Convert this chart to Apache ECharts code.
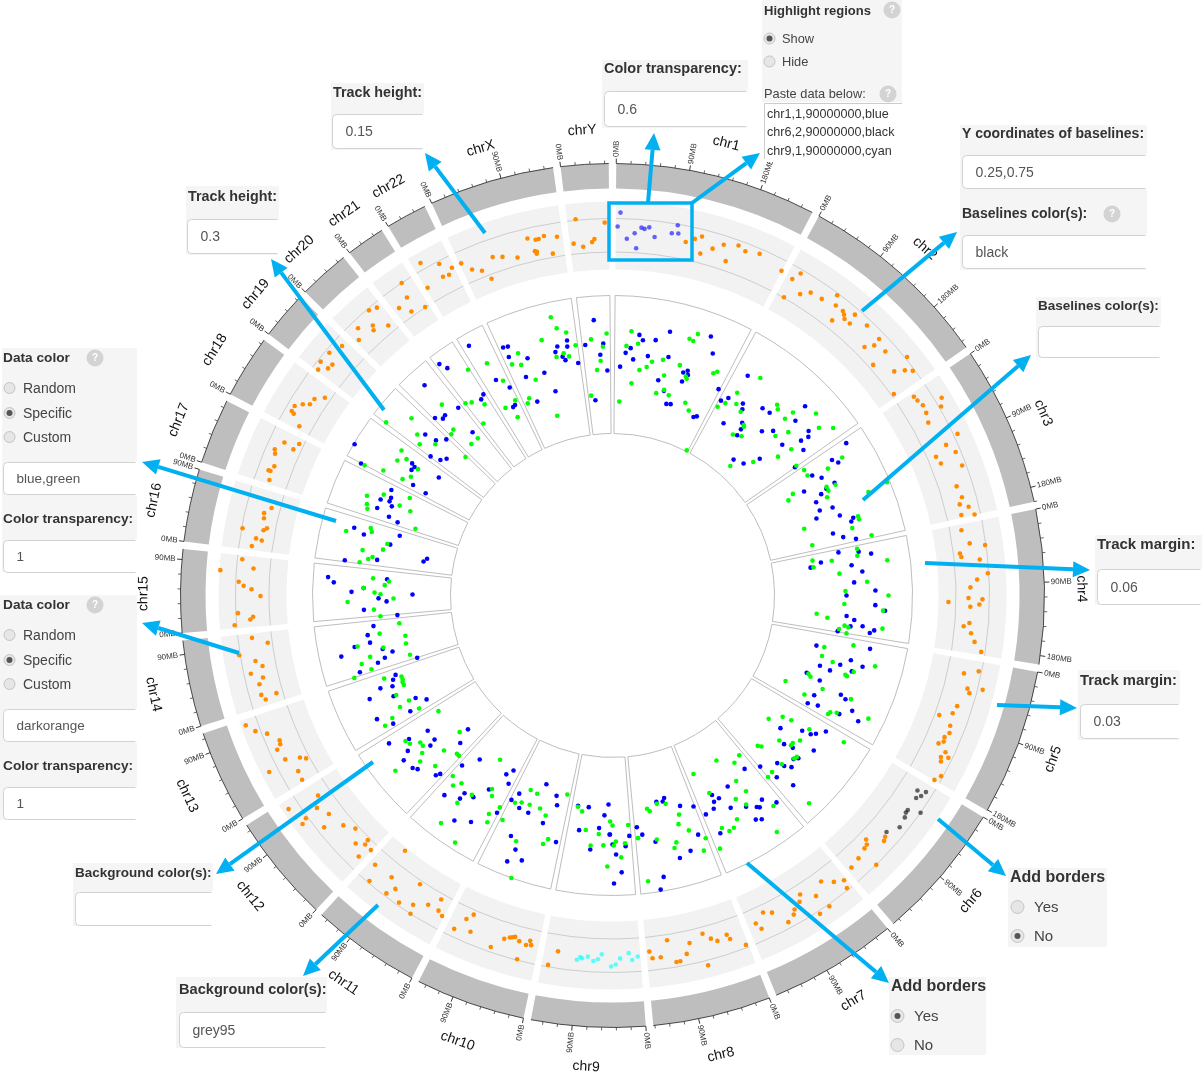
<!DOCTYPE html>
<html><head><meta charset="utf-8">
<style>html,body{margin:0;padding:0;background:#fff}#c{width:1202px;height:1080px}</style>
<script src="https://cdn.jsdelivr.net/npm/echarts@6/dist/echarts.min.js"></script>
</head><body><div id="c"></div>
<script>
const chrNames = ['chr1','chr2','chr3','chr4','chr5','chr6','chr7','chr8','chr9','chr10','chr11','chr12','chr13','chr14','chr15','chr16','chr17','chr18','chr19','chr20','chr21','chr22','chrX','chrY'];
const chrLengthsMB = [249,243,198,191,181,171,159,146,141,136,135,134,115,107,103,90,81,78,59,63,48,51,155,59];
// Points are [genome angle in degrees clockwise from the top, radial value]
const track3Blue = [
[5.9,262],[6.8,257],[9.6,259],[12.3,270],[20.8,277],[4.2,248],[3.1,243],[5,237],[8.4,242],[13.2,245],[22.5,262],[1.9,229],[18.5,237],[17.6,234],[18.9,233],[12,220],[18,225],[27.2,232],[14.1,211],[15.7,199],[16.9,200],[24.4,196],[25.2,198],
[31.6,258],[30.4,229],[29.1,223],[34.2,232],[34.9,227],[38.7,240],[40.7,241],[45.5,270],[46.3,253],[32.8,205],[36.9,216],[37.7,210],[37.9,203],[42.3,222],[44.3,230],[50,256],[51,252],[50.6,244],[48.4,227],[52.7,240],[47.1,201],[44.8,186],[41.7,182],[54.9,223],
[56.9,279],[58.3,258],[59.5,262],[59,233],[60.6,240],[63.1,249],[63.5,239],[61.5,218],[64.1,232],[65.4,224],[67.7,224],[68.2,237],[70.6,241],[72.1,253],[72.8,250],[69.3,218],[74.3,229],[75.8,238],[76.9,250],
[79.9,250],[79.2,230],[80.8,262],[81,211],[82.8,241],[82,200],[84.5,251],[86.9,242],[88.9,263],[90,234],[92.1,263],[93.2,273],[95,235],[95.8,243],[97,252],[97.4,240],[97.6,264],[98.3,260],[99,228],
[103.8,210],[101.7,263],[105.2,247],[108.7,219],[106.9,238],[105.9,260],[109,230],[107.6,251],[111.7,209],[112.3,224],[116.3,225],[113.5,249],[114,255],[118.9,223],[118.2,233],[115.7,266],[117.6,256],[117.1,276],
[128.3,214],[125.5,233],[125,242],[124.2,246],[122.5,253],[130.9,227],[130.2,236],[127.6,254],[131.2,247],[132.1,244],[135.5,235],[139.2,226],[134.8,242],[133.8,248],[137.9,245],[136.4,262],
[142.7,218],[148.9,223],[153.5,223],[152.3,229],[153.8,230],[143.8,253],[141.6,264],[147.7,250],[150.9,243],[145.7,256],[145.2,258],[154.6,236],[156.9,238],[147.4,266],[146.3,269],[155.6,261],
[165.7,209],[168,211],[166.3,212],[162.2,221],[159,226],[174,233],[172.9,241],[160.3,254],[170.1,250],[163,267],[165.6,271],[169.7,286],[170.7,298],
[176,241],[180.6,239],[180,249],[177,251],[179.2,259],[178.1,277],[179.7,288],[189.3,213],[186.4,213],[181.1,209],[182.1,220],[183.3,233],[188.1,237],[180.7,239],[185,255],
[199.3,200],[195.6,208],[194.8,217],[205.2,219],[206.3,228],[203.7,232],[201.2,233],[197,238],[202.9,261],[192.9,253],[200.9,272],[198.9,280],[201.6,286],
[219,211],[221.5,227],[210.7,208],[209.5,201],[208.9,215],[212.5,230],[216.8,247],[214.6,245],[220.1,261],[216.9,254],[208,246],[215.1,275],[212,267],
[227.2,197],[225.9,212],[233.8,229],[231,229],[234.8,249],[230.5,236],[236.5,268],[232.8,257],[231.7,266],[229.2,264],[228.3,261],[224,248],[224.5,252],
[249.9,231],[249,235],[247.6,238],[248.2,250],[245.3,241],[246.9,264],[242.5,222],[240.8,213],[240.2,233],[242.3,266],[239.7,254],
[262.7,241],[260.8,248],[259,247],[258.7,263],[256.9,236],[255.7,227],[257.3,278],[254.7,236],[252.3,205],[254,244],[253.1,264],
[270.8,261],[269.3,234],[268.5,226],[270.3,200],[266.7,249],[264.8,216],[273.7,285],[272.7,279],[274.1,226],[271.7,249],
[284.7,267],[283.8,256],[285.7,221],[282.9,228],[277.5,270],[278.6,238],[280.2,192],[281.2,189],
[295.5,245],[292.5,251],[293.8,242],[292.9,242],[290.4,251],[292,238],[289.4,237],[288.8,227],
[300.4,299],[297.7,284],[303.4,240],[303,236],[302,237],[304.2,210],[299,228],[298.7,213],
[310.7,247],[311.3,235],[313.2,228],[307.4,229],[308.2,219],[309.5,215],
[318.2,282],[315,251],[317.1,246],[316.2,245],[320.6,243],[319.4,215],
[323.2,289],[324,281],[326.2,236],[327.3,239],[330.1,288],[331.6,245],[333.7,232],[338.8,208],[332.9,214],[332.2,213],
[349.9,259],[349.7,253],[347.5,255],[346.8,250],[336.2,271],[337.2,270],[336.5,260],[340.3,252],[348.2,244],[348.7,240],[351.6,235],[338.4,235],[343,233],[344.4,212],
[356.1,276],[353.8,252],[357.9,252],[357.1,241],[358.7,225],[355,196]];
const track3Green = [
[4.1,265],[16.7,268],[17.6,267],[18.1,275],[3.2,250],[5.8,253],[9.6,237],[12.1,241],[16.3,240],[8.5,231],[6.8,227],[18.5,231],[18.9,229],[24.4,244],[25.1,247],[13.2,226],[5.1,213],[14.1,212],[12.2,207],[15.7,208],[2,194],[20.7,206],[22.4,200],[27.1,163],
[34.2,263],[31.6,238],[29.1,216],[30.4,223],[32.9,228],[34.9,224],[40.8,252],[41.6,249],[44.6,257],[48.2,273],[44.3,247],[37.6,215],[37.9,214],[36.8,201],[39,205],[45.6,228],[47.1,240],[50.9,266],[52.8,277],[50.7,231],[50,216],[46.5,194],[42.3,175],[54.8,225],
[59,268],[59.5,250],[56.8,229],[58.4,229],[63.6,249],[63.1,240],[64.1,240],[60.6,207],[65.4,236],[61.6,200],[72.1,258],[72.8,258],[70.8,203],[74.3,249],[76.9,266],[75.9,206],[68,276],[67.6,297],
[79.2,249],[80.8,248],[82.7,277],[80.1,203],[81,222],[82,203],[84.5,228],[86.9,255],[88.9,233],[90,276],[92.1,232],[93.2,271],[95.1,205],[95.9,216],[97.7,238],[97.4,234],[97,272],[98.4,229],[99.2,237],
[103.7,218],[101.7,246],[106.1,218],[106.8,230],[105.1,272],[107.6,253],[111.8,211],[112.3,214],[108.8,246],[109,248],[116.3,193],[114,230],[117.3,216],[113.5,260],[117.6,253],[118.2,247],[118.8,246],[115.7,284],
[128.3,199],[125.5,209],[124.9,218],[124.2,238],[136,209],[131,221],[127.7,237],[129.3,233],[130,233],[135.4,212],[122.4,274],[131.9,244],[131.2,245],[134.9,239],[137.9,238],[139.4,239],[136.6,286],
[141.6,204],[147.8,195],[143.9,207],[155.6,196],[146.3,223],[145.7,237],[153.9,220],[148.8,238],[147.4,248],[142.6,265],[150.9,256],[154.8,257],[153.6,263],[152.4,262],[145.2,288],[157,275],
[168,213],[165.7,215],[170.8,216],[170.2,219],[163.1,229],[163.9,238],[162,247],[174,244],[159,260],[169.7,248],[165.5,255],[166.2,260],[160.3,271],[172.9,288],
[180,230],[176.1,230],[179.2,246],[177.1,248],[179.7,250],[178.1,262],[189.3,214],[188,218],[180.6,226],[186.5,236],[183.3,239],[185,251],[182.1,250],[181.1,271],
[202.8,211],[200.8,212],[192.8,204],[205.2,229],[203.7,226],[201.6,225],[198.8,225],[196.9,230],[201.4,264],[194.8,252],[195.6,258],[199.7,300],[206.1,250],
[214.4,199],[221.5,241],[220,248],[218.8,241],[211.9,228],[211,234],[215.2,244],[216.8,259],[208,240],[209.5,251],[208.9,259],[217,285],[212.5,293],
[228.2,205],[234.9,253],[233.8,251],[232.6,242],[231.6,242],[230.4,247],[227.4,229],[224.5,222],[223.8,222],[229.2,254],[226.1,246],[231.1,279],[236.4,209],
[249,226],[248.2,226],[247.6,227],[246.8,227],[250,243],[245.3,238],[242.7,229],[242.3,240],[239.7,224],[240.9,252],[240.2,262],
[262.6,215],[260.7,236],[259,211],[256.9,212],[258.7,260],[257.2,235],[253.7,211],[255.8,250],[254.7,260],[253,252],[252.3,271],
[270.7,238],[270.3,232],[269.2,219],[268.6,265],[266.6,239],[264.9,233],[274.1,240],[273.6,224],[272.6,228],[271.7,249],
[283.6,274],[285.6,251],[284.8,249],[282.9,231],[281.3,234],[280.3,254],[279.1,243],[278.5,247],[277.5,255],
[292.1,265],[293.8,250],[295.7,225],[290.4,262],[289.5,260],[292.9,231],[292.6,219],[288.7,208],
[297.7,280],[304.5,256],[302.1,254],[303.5,247],[303,232],[298.6,261],[300.5,234],[299,240],
[307.4,285],[311.4,268],[309.5,253],[308.1,245],[310.5,233],[313.3,202],
[318.2,256],[316.2,230],[315,228],[319.4,207],[317,207],
[327.4,268],[322.6,242],[323.9,239],[326.2,230],[323.1,215],[331.6,264],[333,241],[330.3,216],[333.5,218],[337.1,214],[336.2,210],[332,202],[342.9,188],
[347.5,285],[348.2,273],[350,267],[344.5,265],[351.6,253],[338.7,260],[336.5,252],[338.4,248],[348.6,247],[346.8,245],[349.7,243],[340.4,229],
[358.7,262],[355.2,257],[357.8,249],[357.1,235],[356.1,226],[353.9,201]];
const track2Orange = [
[11.7,361],[13,366],[14,370],[16.1,361],[17.6,368],[19.8,372],[21.1,369],[23.3,372],[14.4,353],[18.7,353],
[27.5,366],[29.6,364],[30.3,373],[29.9,344],[31.9,355],[33.2,362],[35.2,363],[36.8,375],[37.6,366],[39,366],[39.5,364],[40.8,371],[38.6,352],[40,361],[41.1,361],[43.3,371],[46.1,370],[45.4,354],[46.3,362],[48.2,366],[51,379],[48.5,348],[51.5,360],[52.4,369],[53.2,375],[54.4,346],
[56.6,361],[57.4,362],[58.5,364],[59,384],[60.1,379],[59.8,363],[61.3,360],[64.9,381],[65.7,366],[67.3,372],[66.8,352],[68.1,354],[69.6,373],[72.4,361],[74.3,363],[75.3,359],[76,367],[77,358],[77.4,371],
[79.4,355],[81.7,361],[82.3,376],[83.1,350],[83.7,351],[84.4,369],[86.6,376],[87.5,365],[88.7,358],[90.4,356],[90.6,370],[91.1,336],[91.4,367],[91.8,358],[94.4,358],[95,352.5],[96,360.5],[97.3,365],[98.7,373],
[102.5,360],[101.7,374],[104.7,367],[105.3,370],[104.3,382],[107.8,362],[109.1,360],[110.1,348],[111.1,362],[112.2,364],[113.1,361],[114.4,358],[113.8,362],[115.2,368],[116.2,366],[115.8,373],[116.8,368],[119.8,371],[118.8,375],
[131.5,364],[132.1,366],[133.9,352],[134.4,356],[135.1,357],[136.9,360],[138.7,362],[135.6,377],
[143.9,354],[142.3,362],[140.9,367],[141.3,375],[147.9,353],[148.6,359],[145.9,363],[149.9,363],[145.1,379],[150.4,367],[146.9,380],[154.6,351],[153.3,355],[151.7,371],[156.4,358],[155.9,365],
[165.1,350],[164,357],[161.4,358],[161.1,363],[163.1,361],[171,349],[167.5,356],[159.1,374],[168.3,366],[174.1,358],[173.7,365],[172.4,365],[170.1,372],[169.5,372],[165.5,382],
[188.7,360],[189.9,375],
[203.5,348],[204.3,355],[205.4,369],[202.9,365],[197.5,360],[196.7,357],[196.3,356],[195.9,355],[195.1,358],[199.1,372],[193.9,360],[193.4,355],[193.1,359],[194.7,376],
[219.1,329],[221.4,359],[218.1,358],[220.4,375],[213.7,347],[216.5,365],[217.2,374],[209.4,349],[214.8,374],[212.8,368],[210.8,360],[208.9,360],[208,363],[212.4,377],
[235.8,356],[236.6,388],[234.3,364],[232.4,358],[234,379],[233.6,385],[231.2,370],[229.5,354],[227.8,347],[225,346],[226,357],[224.8,351],[223.5,351],[224.2,364],
[250.5,389],[249.2,382],[248.2,372],[246.5,363],[245.9,364],[245.3,369],[243.4,366],[242.6,352],[242,347],[240.8,360],[242.8,386],[239.3,361],
[262.2,348],[260.9,378],[259.6,363],[258.6,357],[257.8,370],[256.8,359],[255.9,364],[254.2,365],[253.3,362],[253.8,350],[263.3,363],
[273.7,393],[275.6,372],[274.3,360],[272.1,374],[271.5,369],[271,361],[269.9,352],[267.3,375],[266.2,363],[266.6,360],[265.5,379],
[284.4,352],[283.3,358],[282.5,357],[280.3,376],[280.6,355],[281,352],[279.1,361],[278.9,355],[277.8,364],
[295,362],[293.4,368],[292.8,366],[294.6,351],[295.8,348],[290.9,362],[290,366],[290,364],[288.6,362],
[304.5,349],[303.4,357],[302.3,358],[301.7,364],[300.8,370],[299.9,370],[299.7,367],[298.4,356],
[312.7,368],[310.6,373],[308.7,374],[309.5,363],[308.6,364],[307.5,371],
[320.7,372],[319.5,375],[316.4,369],[318.4,361],[318,357],[320.3,351],[315.2,360],
[326,377],[329,359],[325.4,362],[323.4,358],[324.7,348],[327,344],
[330,384],[332.4,374],[333.9,365],[333,360],[332,361],
[335.5,365],[336.7,355],[338.1,350],[339.1,339],[340.5,359],[342,356],[344.3,351],[346.6,367],[347.8,364],[348.3,364],[349.2,366],[351.2,363],[347.3,353],[347.6,352],[347.5,350],[350.1,347],
[354.4,378],[353.7,354],[355.2,350],[356.7,354],[357.1,357],[358.8,373]];
const track2HighlightBlue = [[1.2,383],[0.8,369],[2.3,357],[3.5,363],[3.9,348],[4.5,369],[5,368],[5.7,370],[6.7,361],[9.3,367],[10.3,368],[10,376]];
const track2HighlightBlack = [[122.6,362],[122.1,370],[123,368],[123.7,365],[126,365],[126.5,365],[127.2,367],[125.2,377],[128.9,369],[130.8,362]];
const track2HighlightCyan = [[185.1,363],[184.8,364],[185.6,366],[183.9,362],[183,366],[182.3,364],[181.7,359],[180.2,371],[179.5,369],[178.8,363],[177.4,358],[176.9,365],[176,362]];

const totalMB = chrLengthsMB.reduce((a,b)=>a+b,0);
const degPerMB = (360-24)/totalMB;
const chrStart = [];
chrLengthsMB.reduce((s,l,i)=>{chrStart[i]=s;return s+l*degPerMB+1;},0.5);
const RAD = {ringOuter:432,ringInner:407,t2Outer:394,t2Inner:326,base1:377,base2:343.5,t3Outer:300,t3Inner:162,label:469};
const CX=612.5, CY=595.5;

function renderChr(params, api){
  const i = api.value(2), s = chrStart[i], len = chrLengthsMB[i], e = s+len*degPerMB;
  const cx = params.coordSys.cx, cy = params.coordSys.cy;
  const toA = d => (d-90)*Math.PI/180;
  const rr = v => { const p = api.coord([v,0]); return Math.hypot(p[0]-cx,p[1]-cy); };
  const sec = (r0,r,fill,stroke) => ({type:'sector',shape:{cx,cy,r0:rr(r0),r:rr(r),startAngle:toA(s),endAngle:toA(e),clockwise:true},style:{fill,stroke:stroke||null,lineWidth:stroke?1:0}});
  const arc = (r,stroke,w) => ({type:'arc',shape:{cx,cy,r:rr(r),startAngle:toA(s),endAngle:toA(e),clockwise:true},style:{fill:null,stroke,lineWidth:w}});
  const kids = [
    sec(RAD.ringInner,RAD.ringOuter,'#bebebe'),
    sec(RAD.t2Inner,RAD.t2Outer,'#f2f2f2'),
    arc(RAD.base1,'#cdcdcd',1), arc(RAD.base2,'#cdcdcd',1),
    sec(RAD.t3Inner,RAD.t3Outer,'#ffffff','#bebebe'),
    arc(RAD.ringOuter,'#222',0.8)
  ];
  for(let mb=0; mb<=len; mb+=18){
    const d = s+mb*degPerMB, major = mb%90===0;
    const a = api.coord([RAD.ringOuter,d]), b = api.coord([RAD.ringOuter+(major?5:3),d]);
    kids.push({type:'line',shape:{x1:a[0],y1:a[1],x2:b[0],y2:b[1]},style:{stroke:'#222',lineWidth:major?0.9:0.7}});
    if(major){
      const t = api.coord([RAD.ringOuter+6.5,d]);
      const right = d<180, cw = right? d-90 : d-270;
      kids.push({type:'text',x:t[0],y:t[1],rotation:-cw*Math.PI/180,style:{text:mb+'MB',x:0,y:0,align:right?'left':'right',verticalAlign:'middle',font:'8px "Liberation Sans"',fill:'#333'}});
    }
  }
  const mid=(s+e)/2, lp = api.coord([RAD.label,mid]);
  const cw = (mid>90 && mid<270) ? mid-180 : mid;
  kids.push({type:'text',x:lp[0],y:lp[1]+3,rotation:-cw*Math.PI/180,style:{text:chrNames[i],x:0,y:0,align:'center',verticalAlign:'middle',font:'14px "Liberation Sans"',fill:'#111'}});
  return {type:'group',children:kids};
}

const toPolar = pts => pts.map(p=>[p[1],p[0]]);
const dots = (pts,color,opacity,size) => ({type:'scatter',coordinateSystem:'polar',data:toPolar(pts),symbolSize:size,z:5,silent:true,animation:false,itemStyle:{color,opacity,borderWidth:0}});

// ---- annotation overlay ----
const g=[]; const Z=100;
const FONT='"Liberation Sans"';
const panel=(x,y,w,h)=>g.push({type:'rect',z:Z,shape:{x,y,width:w,height:h},style:{fill:'#f5f5f5'}});
const txt=(x,y,t,size,bold,fill)=>g.push({type:'text',z:Z+2,x,y:y+1,style:{text:t,x:0,y:0,verticalAlign:'middle',font:(bold?'bold ':'')+size+'px '+FONT,fill:fill||(bold?'#333':'#444')}});
const input=(x,y,w,h,t,size)=>{
  g.push({type:'rect',z:Z+1,shape:{x,y,width:w,height:h,r:[4,0,0,4]},style:{fill:'#fff',stroke:'#d2d2d2',lineWidth:1}});
  g.push({type:'line',z:Z+1,shape:{x1:x+w,y1:y-1,x2:x+w,y2:y+h+1},style:{stroke:'#fff',lineWidth:2}});
  if(t) txt(x+13,y+h/2,t,size||14,false,'#555');
};
const radio=(x,y,t,sel,size,tx)=>{
  g.push({type:'circle',z:Z+1,shape:{cx:x,cy:y,r:size>14?6.5:5.5},style:{fill:'#e6e6e6',stroke:'#c4c4c4',lineWidth:1}});
  if(sel) g.push({type:'circle',z:Z+2,shape:{cx:x,cy:y,r:3},style:{fill:'#555'}});
  txt(tx,y,t,size,false,'#444');
};
const help=(x,y)=>{
  g.push({type:'circle',z:Z+1,shape:{cx:x,cy:y,r:8.5},style:{fill:'#d3d3d3'}});
  g.push({type:'text',z:Z+2,x,y,style:{text:'?',x:0,y:0,align:'center',verticalAlign:'middle',font:'bold 10px '+FONT,fill:'#fff'}});
};
const arrow=(x1,y1,x2,y2)=>{
  const c='#00b0f0', L=Math.hypot(x2-x1,y2-y1), ux=(x2-x1)/L, uy=(y2-y1)/L, hl=17, hw=8;
  const bx=x2-ux*hl, by=y2-uy*hl;
  g.push({type:'line',z:Z+3,shape:{x1,y1,x2:bx,y2:by},style:{stroke:c,lineWidth:4}});
  g.push({type:'polygon',z:Z+3,shape:{points:[[x2,y2],[bx-uy*hw,by+ux*hw],[bx+uy*hw,by-ux*hw]]},style:{fill:c}});
};
// highlight regions
panel(762,0,140,102); txt(764,10,'Highlight regions',13,true); help(892,10);
radio(769.5,38.5,'Show',true,12.8,782); radio(769.5,61.5,'Hide',false,12.8,782);
txt(764,93,'Paste data below:',12.8,false); help(888,94);
g.push({type:'rect',z:Z+1,shape:{x:764.5,y:103.5,width:140,height:58},style:{fill:'#fff',stroke:'#ccc',lineWidth:1}});
g.push({type:'line',z:Z+1,shape:{x1:762,y1:160.5,x2:906,y2:160.5},style:{stroke:'#fff',lineWidth:3}});
g.push({type:'rect',z:Z+1,shape:{x:902,y:100,width:4,height:62},style:{fill:'#fff'}});
txt(767,114,'chr1,1,90000000,blue',12.6,false,'#333');
txt(767,132,'chr6,2,90000000,black',12.6,false,'#333');
txt(767,151,'chr9,1,90000000,cyan',12.6,false,'#333');
// colour transparency
panel(602,60,146,68); txt(604,68,'Color transparency:',14.5,true); input(604.5,91.5,143,35,'0.6');
// track heights
panel(331,83,93,67); txt(333,92,'Track height:',14.3,true); input(332.5,114.5,91,34,'0.15');
panel(186,186,93,69); txt(188,196,'Track height:',14.3,true); input(187.5,219.5,91,34,'0.3');
// baselines
panel(960,125,187,145); txt(962,133,'Y coordinates of baselines:',14,true); input(962.5,155.5,184,33,'0.25,0.75');
txt(962,213,'Baselines color(s):',14,true); help(1112,214); input(962.5,235.5,184,33,'black');
panel(1036,297,125,61); txt(1038,305,'Baselines color(s):',13.5,true); input(1038.5,326.5,122,31,'');
// margins
panel(1095,535,107,70); txt(1097,544,'Track margin:',15,true); input(1097.5,569.5,104,35,'0.06');
panel(1078,670,102,70); txt(1080,680,'Track margin:',14.8,true); input(1080.5,704.5,99,34,'0.03');
// add borders
panel(1008,868,99,79); txt(1010,877,'Add borders',16,true); radio(1017.5,907,'Yes',false,15,1034); radio(1017.5,936,'No',true,15,1034);
panel(889,977,97,78); txt(891,986,'Add borders',16,true); radio(897.5,1016,'Yes',true,15,914); radio(897.5,1045,'No',false,15,914);
// backgrounds
panel(73,863,140,63); txt(75,872,'Background color(s):',13.5,true); input(75.5,892.5,137,33,'');
panel(176,977,151,71); txt(179,989,'Background color(s):',14.6,true); input(179.5,1012.5,147,35,'grey95');
// data colours
panel(2,348,135,224); txt(3,357,'Data color',13.7,true); help(95,358);
radio(9.5,388,'Random',false,14,23); radio(9.5,413,'Specific',true,14,23); radio(9.5,437,'Custom',false,14,23);
input(3.5,462.5,133,32,'blue,green',13.5); txt(3,518,'Color transparency:',13.7,true); input(3.5,540.5,133,32,'1',13.5);
panel(0,595,137,225); txt(3,604,'Data color',13.7,true); help(95,605);
radio(9.5,635,'Random',false,14,23); radio(9.5,660,'Specific',true,14,23); radio(9.5,684,'Custom',false,14,23);
input(3.5,709.5,133,32,'darkorange',13.5); txt(3,765,'Color transparency:',13.7,true); input(3.5,787.5,133,32,'1',13.5);
// highlight box and arrows
g.push({type:'rect',z:Z+3,shape:{x:609,y:203,width:83,height:57},style:{fill:null,stroke:'#00b0f0',lineWidth:3.5}});
arrow(648,203,654,133); arrow(692,203,760,153); arrow(862,311,957,232); arrow(863,500,1031,355);
arrow(925,563,1090,570); arrow(997,705,1077,708); arrow(938,819,1006,876); arrow(747,863,889,983);
arrow(373,762,216,874); arrow(378,905,303,976); arrow(239,653,142,623); arrow(336,521,142,462);
arrow(384,410,271,259); arrow(485,233,425,153);

const chart = echarts.init(document.getElementById('c'),null,{renderer:'canvas'});
chart.setOption({
  animation:false, backgroundColor:'#fff',
  polar:{center:[CX,CY],radius:[0,RAD.ringOuter]},
  radiusAxis:{type:'value',min:0,max:RAD.ringOuter,show:false},
  angleAxis:{type:'value',min:0,max:360,startAngle:90,clockwise:true,show:false},
  graphic:{elements:g},
  series:[
    {type:'custom',coordinateSystem:'polar',silent:true,z:1,clip:false,renderItem:renderChr,encode:{radius:0,angle:1},
     data:chrNames.map((n,i)=>[RAD.ringOuter,chrStart[i],i])},
    dots(track2Orange,'#ff8c00',1,4.6),
    dots(track2HighlightBlue,'#0000ff',0.6,4.6),
    dots(track2HighlightBlack,'#000000',0.6,4.6),
    dots(track2HighlightCyan,'#00ffff',0.6,4.6),
    dots(track3Blue,'#0000ff',1,4.6),
    dots(track3Green,'#00ff00',1,4.6)
  ]
});
</script></body></html>
